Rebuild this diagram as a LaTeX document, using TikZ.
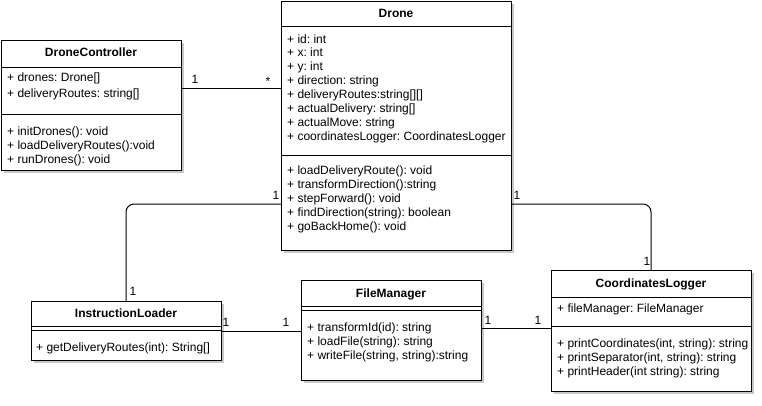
\documentclass[tikz,border=0pt]{standalone}
\usepackage{fontspec}
\setmainfont{Liberation Sans}
\usetikzlibrary{shadows}
\frenchspacing
\begin{document}
\frenchspacing
\begin{tikzpicture}[x=1pt,y=-1pt,
  classbox/.style={draw, line width=1pt, fill=white, inner sep=0pt, outer sep=0pt, anchor=north west,
    drop shadow={shadow xshift=2.5pt, shadow yshift=-2.5pt, opacity=0.22, fill=black}},
  title/.style={font=\fontsize{12}{14}\selectfont\bfseries, inner sep=0pt, text height=9pt, text depth=3pt},
  member/.style={font=\fontsize{12}{14}\selectfont, inner sep=0pt, anchor=west, text height=9pt, text depth=3pt},
  mult/.style={font=\fontsize{12}{14}\selectfont, inner sep=0pt, text height=9pt, text depth=3pt},
  sepline/.style={line width=1pt},
  assoc/.style={line width=1pt}]
\useasboundingbox (0,0) rectangle (762,405);

% ---- DroneController
\node[classbox, minimum width=180pt, minimum height=130pt] (dc) at (1,40) {};
\draw[sepline] (dc.west |- 0,67) -- (dc.east |- 0,67);
\draw[sepline] (dc.west |- 0,114) -- (dc.east |- 0,114);
\node[title] (dct) at (dc.north |- 0,53) {DroneController};
\foreach [count=\i] \t in {{+ drones: Drone[]},{+ deliveryRoutes: string[]}}
  \node[member] (dca\i) at (7,{78+(\i-1)*16}) {\t};
\foreach [count=\i] \t in {{+ initDrones(): void},{+ loadDeliveryRoutes():void},{+ runDrones(): void}}
  \node[member] (dcm\i) at (7,{132.7+(\i-1)*14}) {\t};

% ---- Drone
\node[classbox, minimum width=230pt, minimum height=249pt] (dr) at (281,1) {};
\draw[sepline] (dr.west |- 0,26) -- (dr.east |- 0,26);
\draw[sepline] (dr.west |- 0,155) -- (dr.east |- 0,155);
\node[title] (drt) at (dr.north |- 0,14) {Drone};
\foreach [count=\i] \t in {{+ id: int},{+ x: int},{+ y: int},{+ direction: string},{+ deliveryRoutes:string[][]},{+ actualDelivery: string[]},{+ actualMove: string},{+ coordinatesLogger: CoordinatesLogger}}
  \node[member] (dra\i) at (287,{40+(\i-1)*13.9}) {\t};
\foreach [count=\i] \t in {{+ loadDeliveryRoute(): void},{+ transformDirection():string},{+ stepForward(): void},{+ findDirection(string): boolean},{+ goBackHome(): void}}
  \node[member] (drm\i) at (287,{171.7+(\i-1)*14}) {\t};

% ---- InstructionLoader
\node[classbox, minimum width=190pt, minimum height=59pt] (il) at (31,301) {};
\draw[sepline] (il.west |- 0,326) -- (il.east |- 0,326);
\draw[sepline] (il.west |- 0,330) -- (il.east |- 0,330);
\node[title] (ilt) at (il.north |- 0,314) {InstructionLoader};
\node[member] (ilm1) at (36,348) {+ getDeliveryRoutes(int): String[]};

% ---- FileManager
\node[classbox, minimum width=180pt, minimum height=100pt] (fm) at (301,280) {};
\draw[sepline] (fm.west |- 0,306) -- (fm.east |- 0,306);
\draw[sepline] (fm.west |- 0,310) -- (fm.east |- 0,310);
\node[title] (fmt) at (fm.north |- 0,294) {FileManager};
\foreach [count=\i] \t in {{+ transformId(id): string},{+ loadFile(string): string},{+ writeFile(string, string):string}}
  \node[member] (fmm\i) at (307,{328+(\i-1)*14}) {\t};

% ---- CoordinatesLogger
\node[classbox, minimum width=200pt, minimum height=121pt] (cl) at (551,270) {};
\draw[sepline] (cl.west |- 0,297) -- (cl.east |- 0,297);
\draw[sepline] (cl.west |- 0,326) -- (cl.east |- 0,326);
\node[title] (clt) at (cl.north |- 0,284) {CoordinatesLogger};
\node[member] (cla1) at (557,309) {+ fileManager: FileManager};
\foreach [count=\i] \t in {{+ printCoordinates(int, string): string},{+ printSeparator(int, string): string},{+ printHeader(int string): string}}
  \node[member] (clm\i) at (557,{344+(\i-1)*14}) {\t};

% ---- associations
\draw[assoc] (dc.east |- 0,88) -- (dr.west |- 0,88);
\draw[assoc, rounded corners=8pt] (dr.west |- 0,204) -| (il.north);
\draw[assoc, rounded corners=8pt] (dr.east |- 0,204) -| (cl.north);
\draw[assoc] (il.east |- 0,331) -- (fm.west |- 0,331);
\draw[assoc] (fm.east |- 0,328) -- (cl.west |- 0,328);

% ---- multiplicities
\node[mult] (m1) at (195,80) {1};
\node[mult] (m2) at (268,82) {*};
\node[mult] (m3) at (276,196) {1};
\node[mult] (m4) at (133,292) {1};
\node[mult] (m5) at (517,196) {1};
\node[mult] (m6) at (647,262) {1};
\node[mult] (m7) at (226,323) {1};
\node[mult] (m8) at (286,323) {1};
\node[mult] (m9) at (488,321) {1};
\node[mult] (m10) at (538,321) {1};
\end{tikzpicture}
\end{document}
